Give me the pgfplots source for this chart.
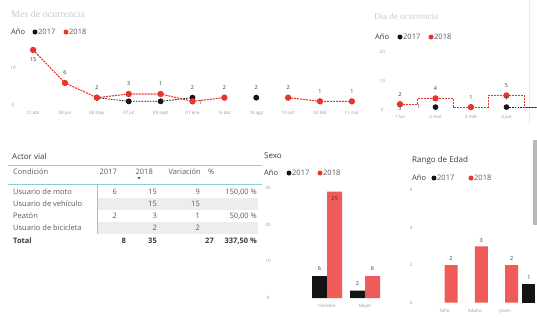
\documentclass[border=0pt]{standalone}
\usepackage{pgfplots}
\pgfplotsset{compat=1.18}
\usepackage{fontspec}
\setmainfont{Open Sans}
\newfontfamily\tf{Liberation Serif}
\newcommand\fs[1]{\fontsize{#1}{#1}\selectfont}
\definecolor{rl}{HTML}{E8352B}
\definecolor{rb}{HTML}{EF5B59}
\definecolor{bk}{HTML}{141414}
\definecolor{dk}{HTML}{3A3A3A}
\definecolor{md}{HTML}{5A5A5A}
\definecolor{lt}{HTML}{9A9A9A}
\definecolor{ttl}{HTML}{CCCCCC}
\definecolor{tl}{HTML}{8CCBD8}
\definecolor{sh}{HTML}{EDEDED}
\pgfplotsset{
 pbi/.style={scale only axis, anchor=south west, enlargelimits=false, clip=false,
   axis line style={draw=none}, tick style={draw=none}, major tick length=0pt,
   tick label style={font=\fs{4.5}, text=lt},
   /pgf/number format/assume math mode=true},
 lbl/.style={draw=none, mark=none, forget plot, nodes near coords, point meta=explicit symbolic,
   nodes near coords style={font=\fs{5.5}, text=dk, anchor=center, inner sep=0pt, #1}},
}
\begin{document}
\begin{tikzpicture}
\path[use as bounding box, clip] (0pt,0pt) rectangle (537pt,-322pt);
\fill[white] (0pt,0pt) rectangle (537pt,-322pt);
\begin{scope}[x=1pt,y=-1pt]
% titles
\node[anchor=west, inner sep=0pt, font=\tf\fs{10}, text=ttl] at (11,14) {Mes de ocurrencia};
\node[anchor=west, inner sep=0pt, font=\tf\fs{9}, text=ttl] at (374,16) {Día de ocurrencia};
\node[anchor=west, inner sep=0pt, font=\fs{8}, text=dk] at (12,156) {Actor vial};
\node[anchor=west, inner sep=0pt, font=\fs{8}, text=dk] at (264,156) {Sexo};
\node[anchor=west, inner sep=0pt, font=\fs{8}, text=dk] at (412,160) {Rango de Edad};
% legends
\begin{scope}[every node/.style={anchor=west, inner sep=0pt, font=\fs{7.5}}]
\node[text=dk] at (11,32) {Año}; \fill[bk] (35,32) circle (2.5pt); \node[text=md] at (38,32) {2017};
\fill[rl] (66,32) circle (2.5pt); \node[text=md] at (69,32) {2018};
\node[text=dk] at (375,37) {Año}; \fill[bk] (400,37) circle (2.5pt); \node[text=md] at (403,37) {2017};
\fill[rl] (431,37) circle (2.5pt); \node[text=md] at (434,37) {2018};
\node[text=dk] at (264,173) {Año}; \fill[bk] (289,173) circle (2.5pt); \node[text=md] at (292,173) {2017};
\fill[rl] (320,173) circle (2.5pt); \node[text=md] at (323,173) {2018};
\node[text=dk] at (412,178) {Año}; \fill[bk] (434,178) circle (2.5pt); \node[text=md] at (437,178) {2017};
\fill[rl] (471,178) circle (2.5pt); \node[text=md] at (474,178) {2018};
\end{scope}
% table
\fill[sh] (98,198) rectangle (258,210);
\fill[sh] (98,222) rectangle (258,234);
\draw[tl, line width=0.7pt] (8,165)--(262,165);
\draw[tl, line width=0.7pt] (8,184)--(262,184);
\draw[tl, line width=0.7pt] (97,184)--(97,234);
\fill[md] (137.5,177)--(140.5,177)--(139,179.5)--cycle;
\begin{scope}[every node/.style={inner sep=0pt, font=\fs{7.5}, text=md}]
\node[anchor=west] at (13,172) {Condición};
\node[anchor=east] at (117,172) {2017};
\node[anchor=east] at (153,172) {2018};
\node[anchor=east] at (201,172) {Variación};
\node[anchor=west] at (208,172) {\%};
\node[anchor=west] at (13,192) {Usuario de moto};
\node[anchor=east] at (117,192) {6};
\node[anchor=east] at (157,192) {15};
\node[anchor=east] at (200,192) {9};
\node[anchor=east] at (257,192) {150,00 \%};
\node[anchor=west] at (13,204) {Usuario de vehículo};
\node[anchor=east] at (157,204) {15};
\node[anchor=east] at (200,204) {15};
\node[anchor=west] at (13,216) {Peatón};
\node[anchor=east] at (117,216) {2};
\node[anchor=east] at (157,216) {3};
\node[anchor=east] at (200,216) {1};
\node[anchor=east] at (257,216) {50,00 \%};
\node[anchor=west] at (13,228) {Usuario de bicicleta};
\node[anchor=east] at (157,228) {2};
\node[anchor=east] at (200,228) {2};
\end{scope}
\begin{scope}[every node/.style={inner sep=0pt, font=\fs{7.5}\bfseries, text=dk}]
\node[anchor=west] at (13,241) {Total};
\node[anchor=east] at (126,241) {8};
\node[anchor=east] at (157,241) {35};
\node[anchor=east] at (214,241) {27};
\node[anchor=east] at (257,241) {337,50 \%};
\end{scope}
% right edge
\draw[black!8, line width=0.8pt] (529,0)--(529,125);
\fill[black!28] (533,140) rectangle (537,225);
\end{scope}

% ---- Mes de ocurrencia
\begin{axis}[pbi, at={(14pt,-105pt)}, width=357pt, height=58.7pt,
  xmin=-0.6, xmax=10.6, ymin=0, ymax=16,
  xtick={0,...,10},
  xticklabels={12 abr,08 jun,08 may,07 jul,09 sept,01 ene,16 abr,18 ago,10 oct,02 feb,11 mar},
  xticklabel style={yshift=-3pt},
  ytick={0,10}, yticklabel style={anchor=center, xshift=-1pt},
  unbounded coords=jump]
\addplot[bk, line width=0.8pt, dash pattern=on 1.6pt off 1.2pt, mark=*, mark size=2.5pt, mark options={solid}]
  coordinates {(2,2)(3,1)(4,1)(5,2)(6,nan)(7,2)};
\addplot[rl, line width=1.1pt, dash pattern=on 2pt off 1pt, mark=*, mark size=2.6pt, mark options={solid}]
  coordinates {(0,15)(1,6)(2,2)(3,3)(4,3)(5,1)(6,2)(7,nan)(8,2)(9,1)(10,1)};
\addplot[lbl={yshift=10pt}] coordinates {(1,6)[6] (2,2)[2] (3,3)[3] (4,3)[1] (5,2)[2] (6,2)[2] (7,2)[2] (8,2)[2] (9,1)[1] (10,1)[1]};
\addplot[lbl={yshift=-10pt}] coordinates {(0,15)[15]};
\addplot[lbl={xshift=8pt, yshift=-1pt}] coordinates {(5,1)[1]};
\end{axis}

% ---- Día de ocurrencia
\begin{axis}[pbi, at={(382.25pt,-110pt)}, width=181pt, height=61pt,
  xmin=-0.5, xmax=4.6, ymin=0, ymax=21,
  xtick={0,...,3}, xticklabels={1 lun,2 mar,3 mié,4 jue},
  xticklabel style={yshift=-2pt},
  ytick={0,10,20}, yticklabel style={anchor=center},
  unbounded coords=jump]
\addplot[bk, const plot mark mid, line width=0.8pt, dash pattern=on 1.6pt off 1.2pt, mark=*, mark size=2.4pt, mark options={solid}]
  coordinates {(0,nan)(1,1)(2,nan)(3,1)(4,1)};
\addplot[rl, const plot mark mid, line width=1.1pt, dash pattern=on 2pt off 1pt, mark=*, mark size=2.6pt, mark options={solid}]
  coordinates {(0,2)(1,4)(2,1)(3,5)(4,1)};
\addplot[lbl={yshift=10pt}] coordinates {(0,2)[2] (1,4)[4] (2,1)[1] (3,5)[5]};
\addplot[lbl={yshift=8.5pt}] coordinates {(3,1)[1]};
\addplot[lbl={xshift=-17pt, yshift=1pt}] coordinates {(1,1)[1]};
\addplot[lbl={yshift=1pt}] coordinates {(0,0)[3]};
\end{axis}

% ---- Sexo
\begin{axis}[pbi, at={(285.2pt,-298pt)}, width=102.6pt, height=117.3pt,
  xmin=-1.1, xmax=1.6, ymin=0, ymax=32,
  xtick={0,1}, xticklabels={Hombre,Mujer}, xticklabel style={yshift=-3pt},
  ytick={0,10,20,30}, yticklabel style={anchor=center, xshift=-17pt}]
\addplot[ybar, bar width=15pt, bar shift=-7.5pt, fill=bk, draw=none] coordinates {(0,6)(1,2)};
\addplot[ybar, bar width=15pt, bar shift=7.5pt, fill=rb, draw=none] coordinates {(0,29)(1,6)};
\addplot[lbl={xshift=-7.5pt, yshift=7pt}] coordinates {(0,6)[6] (1,2)[2]};
\addplot[lbl={xshift=7.5pt, yshift=-7pt}] coordinates {(0,29)[29]};
\addplot[lbl={xshift=7.5pt, yshift=7pt}] coordinates {(1,6)[6]};
\end{axis}

% ---- Rango de Edad
\begin{axis}[pbi, at={(414.2pt,-302.5pt)}, width=139.4pt, height=120pt,
  xmin=-1, xmax=3.6, ymin=0, ymax=6.4,
  xtick={0,1,2}, xticklabels={Niño,Adulto,Joven}, xticklabel style={yshift=-3pt},
  ytick={0,2,4,6}, yticklabel style={anchor=center, xshift=-3pt}]
\addplot[ybar, bar width=13pt, bar shift=-6.5pt, fill=bk, draw=none] coordinates {(3,1)};
\addplot[ybar, bar width=13pt, bar shift=6.5pt, fill=rb, draw=none] coordinates {(0,2)(1,3)(2,2)};
\addplot[lbl={xshift=6.5pt, yshift=6pt}] coordinates {(0,2)[2] (1,3)[3] (2,2)[2]};
\addplot[lbl={xshift=-6.5pt, yshift=6pt}] coordinates {(3,1)[1]};
\end{axis}
\end{tikzpicture}
\end{document}
